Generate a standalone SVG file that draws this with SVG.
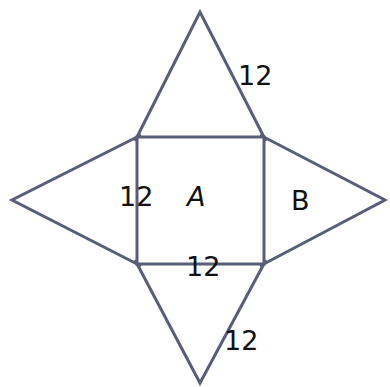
<svg xmlns="http://www.w3.org/2000/svg" width="390" height="387" viewBox="0 0 390 387">
<style>
.e{fill:none;stroke:#585d78;stroke-width:3;stroke-linejoin:miter}
.t{font-family:"DejaVu Sans",Verdana,sans-serif;font-size:27px;fill:#111}
</style>
<rect width="390" height="387" fill="#fff"/>
<g id="square"><rect class="e" x="137" y="137" width="127" height="127"/></g>
<g id="tri-top"><polyline class="e" points="135,141 200,12 266,141"/></g>
<g id="tri-left"><polyline class="e" points="141,135 12,200 141,266"/></g>
<g id="tri-right"><polyline class="e" points="260,135 385,200 260,266"/></g>
<g id="tri-bottom"><polyline class="e" points="135,260 200,383 266,260"/></g>
<g id="labels">
<text class="t" x="238" y="85">12</text>
<text class="t" x="119" y="206">12</text>
<text class="t" x="186" y="276">12</text>
<text class="t" x="224" y="350">12</text>
<text class="t" x="187" y="206" font-style="italic">A</text>
<text class="t" x="291" y="210">B</text>
</g>
</svg>
